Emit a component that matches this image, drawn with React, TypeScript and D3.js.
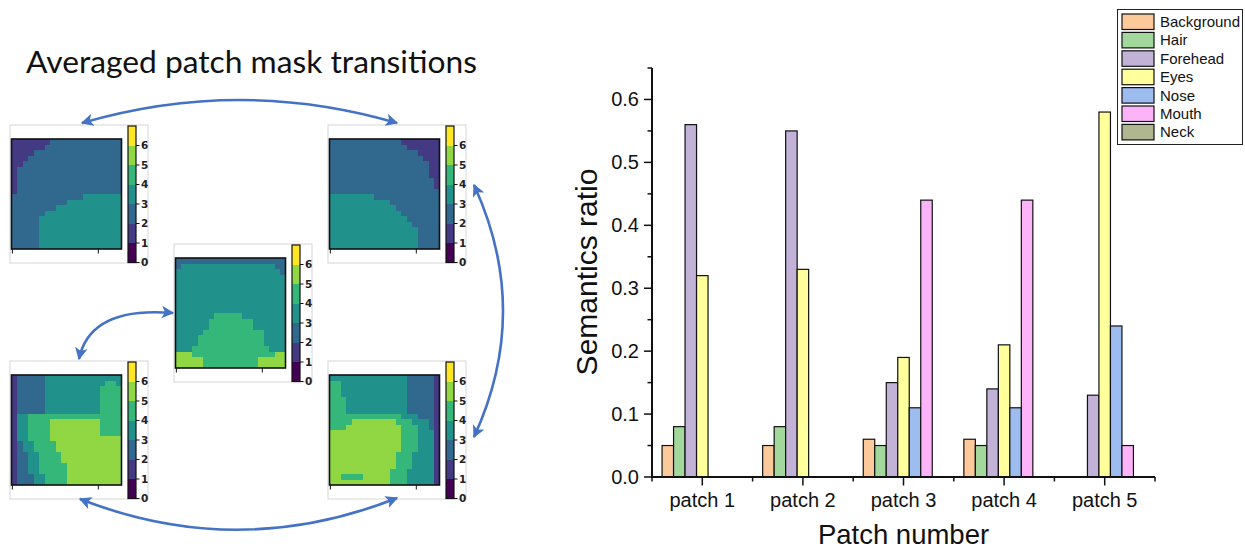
import React, { useEffect, useRef } from 'react';
import * as d3 from 'd3';

// bar chart data
const patches = ['patch 1', 'patch 2', 'patch 3', 'patch 4', 'patch 5'];
const semantics = ['Background', 'Hair', 'Forehead', 'Eyes', 'Nose', 'Mouth', 'Neck'];
const semanticColors = ['#fbc99a', '#a2d89c', '#c2b2d7', '#ffff9c', '#9dbcf0', '#fdb3f8', '#b0b68f'];
const background = [0.05, 0.05, 0.06, 0.06, 0];
const hair = [0.08, 0.08, 0.05, 0.05, 0];
const forehead = [0.56, 0.55, 0.15, 0.14, 0.13];
const eyes = [0.32, 0.33, 0.19, 0.21, 0.58];
const nose = [0, 0, 0.11, 0.11, 0.24];
const mouth = [0, 0, 0.44, 0.44, 0.05];
const neck = [0, 0, 0, 0, 0];
const yTicks = [0, 0.1, 0.2, 0.3, 0.4, 0.5, 0.6];
const cbarTicks = [0, 1, 2, 3, 4, 5, 6];

// averaged patch masks, coarse 20x20 class grids
const maskA = [
  '11111112222222222222',
  '11111122222222222222',
  '11112222222222222222',
  '11122222222222222222',
  '11222222222222222222',
  '12222222222222222222',
  '12222222222222222222',
  '12222222222222222222',
  '12222222222222222222',
  '12222222222222222222',
  '22222222222223333333',
  '22222222223333333333',
  '22222222333333333333',
  '22222233333333333333',
  '22222333333333333333',
  '22222333333333333333',
  '22222333333333333333',
  '22222333333333333333',
  '22222333333333333333',
  '22222333333333333333',
];
const maskB = [
  '22222222222221111111',
  '22222222222222111111',
  '22222222222222221111',
  '22222222222222222111',
  '22222222222222222211',
  '22222222222222222211',
  '22222222222222222211',
  '22222222222222222221',
  '22222222222222222221',
  '22222222222222222222',
  '33333333222222222222',
  '33333333333222222222',
  '33333333333322222222',
  '33333333333332222222',
  '33333333333333222222',
  '33333333333333322222',
  '33333333333333332222',
  '33333333333333332222',
  '33333333333333332222',
  '33333333333333332222',
];
const maskC = [
  '22222222222222222222',
  '23333333333333333322',
  '33333333333333333332',
  '33333333333333333333',
  '33333333333333333333',
  '33333333333333333333',
  '33333333333333333333',
  '33333333333333333333',
  '33333333333333333333',
  '33333333333333333333',
  '33333334444433333333',
  '33333344444444333333',
  '33333344444444333333',
  '33333444444444443333',
  '33334444444444443333',
  '33334444444444443333',
  '33344444444444444333',
  '55544444444444444455',
  '55555444444444455555',
  '55555444444444455555',
];
const maskD = [
  '12222233333333333333',
  '12222233333333333443',
  '12222233333333334444',
  '12222233333333334444',
  '12222233333333334444',
  '12222233333333334444',
  '12222233333333334444',
  '13344444444444444444',
  '13344445555555554444',
  '13344445555555554444',
  '13344445555555554444',
  '13344445555555555555',
  '12334444555555555555',
  '12334444555555555555',
  '12233444455555555555',
  '12233444455555555555',
  '12233444445555555555',
  '12233444445555555555',
  '12223344445555555555',
  '12223344445555555555',
];
const maskE = [
  '33333333333333222221',
  '44333333333333222221',
  '44333333333333222221',
  '44333333333333222221',
  '44433333333333222221',
  '44433333333333222221',
  '44433333333333222221',
  '44444444444443332221',
  '44445555555544433321',
  '44455555555554443321',
  '55555555555554443331',
  '55555555555554443331',
  '55555555555554443331',
  '55555555555554443331',
  '55555555555544433331',
  '55555555555544433331',
  '55555555555544433331',
  '55555555555444333331',
  '55444455555444333331',
  '55555555555444333331',
];

const W = 1245;
const H = 550;

const drawPanel = (svg, mask, L, T) => {
  const g = svg.append('g');
  g.append('rect')
    .attr('x', L).attr('y', T).attr('width', 138).attr('height', 138)
    .attr('fill', '#fff').attr('stroke', '#d6d6d6').attr('stroke-width', 1);

  const n = mask.length;
  const idx = d3.range(n);
  const cx = d3.scaleBand().domain(idx).range([L + 1.5, L + 111.5]);
  const cy = d3.scaleBand().domain(idx).range([T + 14, T + 124]);
  const color = v => d3.interpolateViridis(v / 6);

  const cells = [];
  mask.forEach((row, r) => row.split('').forEach((c, k) => cells.push({ r, k, v: +c })));
  g.selectAll('.cell')
    .data(cells)
    .enter()
    .append('rect')
    .attr('x', d => cx(d.k))
    .attr('y', d => cy(d.r))
    .attr('width', cx.bandwidth() + 0.4)
    .attr('height', cy.bandwidth() + 0.4)
    .attr('fill', d => color(d.v))
    .attr('shape-rendering', 'crispEdges');

  g.append('rect')
    .attr('x', L + 1.5).attr('y', T + 14).attr('width', 110).attr('height', 110)
    .attr('fill', 'none').attr('stroke', '#111').attr('stroke-width', 1.6);

  // image x ticks at pixel 0 and 50 of 64
  const px = d3.scaleLinear().domain([0, 64]).range([L + 1.5, L + 111.5]);
  [0.5, 50.5].forEach(t => {
    g.append('line')
      .attr('x1', px(t)).attr('x2', px(t))
      .attr('y1', T + 124).attr('y2', T + 128.5)
      .attr('stroke', '#111').attr('stroke-width', 1);
  });

  // discrete colorbar
  const cb = d3.scaleLinear().domain([0, 7]).range([T + 137.5, T + 1]);
  const cbx = L + 118;
  g.selectAll('.band')
    .data(d3.range(7))
    .enter()
    .append('rect')
    .attr('x', cbx)
    .attr('y', d => cb(d + 1))
    .attr('width', 8)
    .attr('height', d => cb(d) - cb(d + 1) + 0.3)
    .attr('fill', d => color(d))
    .attr('shape-rendering', 'crispEdges');
  g.append('rect')
    .attr('x', cbx).attr('y', cb(7)).attr('width', 8).attr('height', cb(0) - cb(7))
    .attr('fill', 'none').attr('stroke', '#111').attr('stroke-width', 1.2);
  cbarTicks.forEach(t => {
    g.append('line')
      .attr('x1', cbx + 8).attr('x2', cbx + 11.5)
      .attr('y1', cb(t)).attr('y2', cb(t))
      .attr('stroke', '#111').attr('stroke-width', 1);
    g.append('text')
      .attr('x', cbx + 13).attr('y', cb(t) + 3.8)
      .attr('font-family', 'DejaVu Sans, sans-serif')
      .attr('font-size', 10.5)
      .attr('font-weight', 'bold')
      .attr('fill', '#222')
      .text(t);
  });
};

const App = () => {
  const ref = useRef(null);

  useEffect(() => {
    const svg = d3.select(ref.current);
    svg.selectAll('*').remove();

    svg.append('rect').attr('width', W).attr('height', H).attr('fill', '#fff');

    // ---- left half: mask transitions ----
    svg.append('text')
      .attr('x', 26).attr('y', 73)
      .attr('font-family', 'Lato, Open Sans, sans-serif')
      .attr('font-size', 31)
      .attr('textLength', 451)
      .attr('lengthAdjust', 'spacingAndGlyphs')
      .attr('fill', '#111')
      .text('Averaged patch mask transitions');

    drawPanel(svg, maskA, 10, 125);
    drawPanel(svg, maskB, 328, 125);
    drawPanel(svg, maskC, 174, 244);
    drawPanel(svg, maskD, 10, 361);
    drawPanel(svg, maskE, 328, 361);

    const blue = '#4472c4';
    svg.append('defs').append('marker')
      .attr('id', 'ah')
      .attr('viewBox', '0 0 10 10')
      .attr('refX', 9).attr('refY', 5)
      .attr('markerWidth', 4.8).attr('markerHeight', 4.8)
      .attr('orient', 'auto-start-reverse')
      .append('path')
      .attr('d', 'M0,0 L10,5 L0,10 L2.5,5 z')
      .attr('fill', blue);

    const arrows = [
      [[82, 123], [240, 77], [397, 123]],
      [[474, 185], [532, 311], [474, 437]],
      [[80, 499], [238, 561], [397, 498]],
      [[173, 313], [90, 306], [79, 359]],
    ];
    arrows.forEach(([a, c, b]) => {
      const p = d3.path();
      p.moveTo(a[0], a[1]);
      p.quadraticCurveTo(c[0], c[1], b[0], b[1]);
      svg.append('path')
        .attr('d', p.toString())
        .attr('fill', 'none')
        .attr('stroke', blue)
        .attr('stroke-width', 2.6)
        .attr('marker-start', 'url(#ah)')
        .attr('marker-end', 'url(#ah)');
    });

    // ---- right half: bar chart ----
    const font = 'Liberation Sans, Arial, sans-serif';
    const x0 = 652;
    const x1 = 1155;
    const x = d3.scaleBand().domain(patches).range([x0, x1]).paddingInner(0.2).paddingOuter(0.1);
    const xs = d3.scaleBand().domain(semantics).range([0, x.bandwidth()]);
    const y = d3.scaleLinear().domain([0, 0.65]).range([477, 68]);
    const color = d3.scaleOrdinal().domain(semantics).range(semanticColors);
    const seriesValues = [background, hair, forehead, eyes, nose, mouth, neck];

    const bars = [];
    semantics.forEach((s, i) => {
      seriesValues[i].forEach((v, j) => {
        if (v > 0) bars.push({ s, p: patches[j], v });
      });
    });
    svg.append('g')
      .selectAll('rect')
      .data(bars)
      .enter()
      .append('rect')
      .attr('x', d => x(d.p) + xs(d.s))
      .attr('y', d => y(d.v))
      .attr('width', xs.bandwidth())
      .attr('height', d => y(0) - y(d.v))
      .attr('fill', d => color(d.s))
      .attr('stroke', '#111')
      .attr('stroke-width', 1.2);

    const axis = svg.append('g').attr('stroke', '#111');
    axis.append('line')
      .attr('x1', x0).attr('x2', x0).attr('y1', y(0.65)).attr('y2', y(0) + 1)
      .attr('stroke-width', 2);
    axis.append('line')
      .attr('x1', x0 - 1).attr('x2', x1).attr('y1', y(0)).attr('y2', y(0))
      .attr('stroke-width', 2);

    // y ticks, major and minor
    d3.range(0, 0.651, 0.05).forEach((t, i) => {
      const major = i % 2 === 0;
      axis.append('line')
        .attr('x1', x0 - (major ? 8 : 4.5)).attr('x2', x0)
        .attr('y1', y(t)).attr('y2', y(t))
        .attr('stroke-width', 1.5);
    });
    svg.append('g')
      .selectAll('text')
      .data(yTicks)
      .enter()
      .append('text')
      .attr('x', 639)
      .attr('y', d => y(d) + 7)
      .attr('text-anchor', 'end')
      .attr('font-family', font)
      .attr('font-size', 20)
      .attr('fill', '#111')
      .text(d => d.toFixed(1));

    // x ticks: minor at band edges, major at centres
    const step = x.step();
    d3.range(6).forEach(i => {
      const px = x0 + i * step;
      axis.append('line')
        .attr('x1', px).attr('x2', px).attr('y1', y(0)).attr('y2', y(0) + 4.5)
        .attr('stroke-width', 1.5);
    });
    patches.forEach(p => {
      const px = x(p) + x.bandwidth() / 2;
      axis.append('line')
        .attr('x1', px).attr('x2', px).attr('y1', y(0)).attr('y2', y(0) + 8.5)
        .attr('stroke-width', 1.5);
      svg.append('text')
        .attr('x', px).attr('y', 507)
        .attr('text-anchor', 'middle')
        .attr('font-family', font)
        .attr('font-size', 20)
        .attr('fill', '#111')
        .text(p);
    });

    svg.append('text')
      .attr('x', (x0 + x1) / 2).attr('y', 544)
      .attr('text-anchor', 'middle')
      .attr('font-family', font)
      .attr('font-size', 27.5)
      .attr('fill', '#111')
      .text('Patch number');
    svg.append('text')
      .attr('transform', 'translate(597,272) rotate(-90)')
      .attr('text-anchor', 'middle')
      .attr('font-family', font)
      .attr('font-size', 30)
      .attr('fill', '#111')
      .text('Semantics ratio');

    // legend
    const lg = svg.append('g');
    lg.append('rect')
      .attr('x', 1117.5).attr('y', 9.5).attr('width', 125).attr('height', 135)
      .attr('fill', '#fff').attr('stroke', '#222').attr('stroke-width', 1);
    semantics.forEach((s, i) => {
      const ty = 14 + i * 18.4;
      lg.append('rect')
        .attr('x', 1122).attr('y', ty).attr('width', 32).attr('height', 15.5)
        .attr('fill', color(s)).attr('stroke', '#111').attr('stroke-width', 1.2);
      lg.append('text')
        .attr('x', 1160).attr('y', ty + 13)
        .attr('font-family', font)
        .attr('font-size', 15)
        .attr('fill', '#111')
        .text(s);
    });
  }, []);

  return (
    <svg
      ref={ref}
      width={W}
      height={H}
      style={{ position: 'absolute', left: 0, top: 0, display: 'block' }}
    />
  );
};

export default App;
